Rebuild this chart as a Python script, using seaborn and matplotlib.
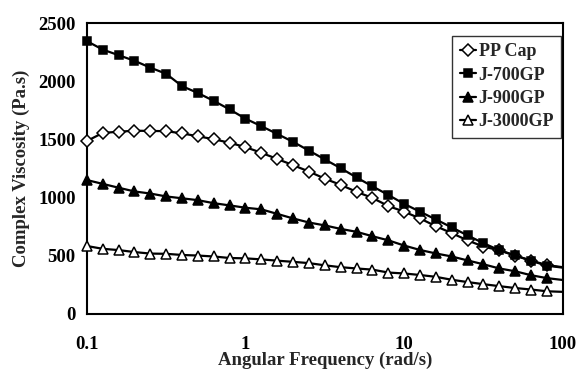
import matplotlib
matplotlib.use("Agg")
import matplotlib.pyplot as plt
from matplotlib.ticker import FixedLocator, FixedFormatter, NullLocator
import seaborn as sns
import pandas as pd

# Angular frequency sweep (rad/s); the last entry only carries the line to the axis edge
freq = [0.1, 0.1259, 0.1585, 0.1995, 0.2512, 0.3162, 0.3981, 0.5012, 0.631, 0.7943,
        1.0, 1.259, 1.585, 1.995, 2.512, 3.162, 3.981, 5.012, 6.31, 7.943,
        10.0, 12.59, 15.85, 19.95, 25.12, 31.62, 39.81, 50.12, 63.1, 79.43, 100.0]

# Complex viscosity (Pa.s)
pp_cap = [1486, 1556, 1566, 1575, 1573, 1571, 1552, 1527, 1502, 1471,
          1434, 1385, 1332, 1279, 1224, 1163, 1109, 1050, 997, 928,
          879, 821, 754, 695, 632, 579, 547, 501, 459, 420, 402]
j700 = [2345, 2272, 2224, 2176, 2117, 2064, 1958, 1899, 1831, 1758,
        1678, 1614, 1547, 1479, 1404, 1328, 1253, 1173, 1097, 1023,
        946, 879, 812, 744, 675, 608, 548, 503, 457, 415, 398]
j900 = [1151, 1118, 1085, 1053, 1035, 1010, 994, 978, 952, 933,
        913, 899, 860, 821, 786, 761, 731, 706, 668, 633,
        588, 550, 520, 494, 460, 427, 391, 367, 333, 308, 292]
j3000 = [584, 560, 549, 532, 519, 517, 507, 502, 494, 481,
         478, 469, 458, 448, 437, 418, 402, 391, 381, 356,
         348, 335, 319, 294, 274, 256, 239, 223, 210, 195, 190]

series_names = ["PP Cap", "J-700GP", "J-900GP", "J-3000GP"]
series_values = [pp_cap, j700, j900, j3000]

y_ticks = [0, 500, 1000, 1500, 2000, 2500]
x_ticks = [0.1, 1, 10, 100]
x_tick_labels = ["0.1", "1", "10", "100"]

sns.set_style("white")
plt.rcParams["font.family"] = ["Liberation Serif", "DejaVu Serif"]
plt.rcParams["font.weight"] = "bold"

df = pd.DataFrame({name: vals for name, vals in zip(series_names, series_values)})
df["freq"] = freq

styles = {
    "PP Cap": dict(marker="D", markersize=6.4, markerfacecolor="white"),
    "J-700GP": dict(marker="s", markersize=6.4, markerfacecolor="black"),
    "J-900GP": dict(marker="^", markersize=7.8, markerfacecolor="black"),
    "J-3000GP": dict(marker="^", markersize=7.8, markerfacecolor="white"),
}

fig = plt.figure(figsize=(5.79, 3.72), dpi=100)
ax = fig.add_axes([0.150, 0.156, 0.822, 0.782])

n_marked = len(freq) - 1
for name in series_names:
    sns.lineplot(data=df, x="freq", y=name, ax=ax, color="black", linewidth=1.6,
                 markeredgecolor="black", markeredgewidth=1.1,
                 markevery=slice(0, n_marked), clip_on=False, zorder=5,
                 label=name, **styles[name])

ax.set_xscale("log")
ax.set_xlim(0.1, 100)
ax.set_ylim(0, 2500)
ax.xaxis.set_major_locator(FixedLocator(x_ticks))
ax.xaxis.set_major_formatter(FixedFormatter(x_tick_labels))
ax.xaxis.set_minor_locator(NullLocator())
ax.set_yticks(y_ticks)

for sp in ax.spines.values():
    sp.set_color("black")
    sp.set_linewidth(1.5)

ax.tick_params(axis="both", which="major", direction="out", length=4, width=1.2,
               colors="black", labelsize=13.5)
ax.tick_params(axis="x", pad=12)
ax.tick_params(axis="y", pad=4)
for lab in ax.get_xticklabels() + ax.get_yticklabels():
    lab.set_fontweight("bold")

ax.set_xlabel("Angular Frequency (rad/s)", fontsize=13.5, fontweight="bold", labelpad=-1)
ax.set_ylabel("Complex Viscosity (Pa.s)", fontsize=13.5, fontweight="bold", labelpad=6)

leg = ax.legend(loc="upper right", bbox_to_anchor=(0.997, 0.955), frameon=True,
                fancybox=False, shadow=False, fontsize=13, handlelength=0.9,
                handletextpad=0.15, labelspacing=0.35, borderpad=0.4,
                borderaxespad=0.0)
leg.get_frame().set_edgecolor("black")
leg.get_frame().set_linewidth(1.0)
for t in leg.get_texts():
    t.set_fontweight("bold")

fig.savefig("out.png", dpi=100)
